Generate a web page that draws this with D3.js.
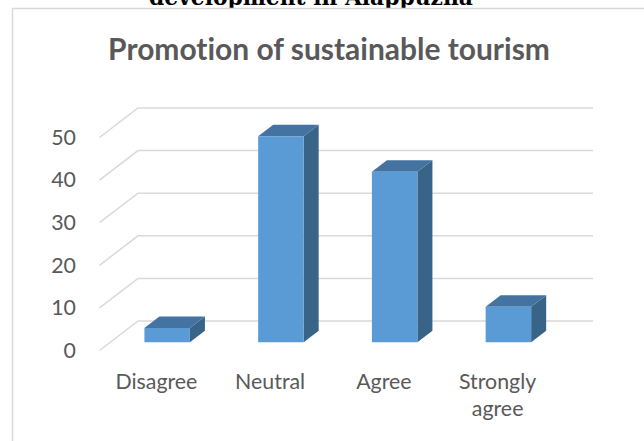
<!DOCTYPE html>
<html>
<head>
<meta charset="utf-8">
<script src="https://cdn.jsdelivr.net/npm/d3@7"></script>
<style>
  html, body { margin: 0; padding: 0; background: #fff; }
  svg { display: block; }
  text { font-variant-ligatures: none; font-feature-settings: "liga" 0, "clig" 0; }
</style>
</head>
<body>
<svg id="chart" width="644" height="441"></svg>
<script>
// Survey responses (% of respondents)
const categories = ["Disagree", "Neutral", "Agree", "Strongly agree"];
const values = [3.33, 48.33, 40, 8.33];
const yTicks = [0, 10, 20, 30, 40, 50];
const chartTitle = "Promotion of sustainable tourism";
const headingText = "development in Alappuzha";

const W = 644, H = 441;
const svg = d3.select("#chart");

// 3D projection: front floor plane plus a depth vector toward the back wall
const DX = 38.5, DY = 29.5;
const x = d3.scaleBand().domain(categories).range([99.5, 554.5]).padding(0);
const y = d3.scaleLinear().domain([0, 50]).range([350.5, 137.5]);
const proj = (px, v, d) => [px + d * DX, y(v) - d * DY];

const textColor = "#595959";
const gridColor = "#d9d9d9";
const sansFont = "Lato, 'Open Sans', sans-serif";

// scale a text's font-size so it spans the given width
function fitWidth(sel, target) {
  const w = sel.node().getComputedTextLength();
  const fs = parseFloat(sel.attr("font-size"));
  sel.attr("font-size", fs * target / w);
  return fs * target / w;
}

// heading above the chart frame (runs off the top of the page)
const heading = svg.append("text")
  .attr("x", 311).attr("y", 5)
  .attr("text-anchor", "middle")
  .attr("font-family", "'DejaVu Serif', 'Liberation Serif', serif")
  .attr("font-weight", "bold")
  .attr("font-size", 20)
  .attr("fill", "#000")
  .text(headingText);
fitWidth(heading, 324);

// chart frame
svg.append("rect")
  .attr("x", 12.5).attr("y", 8.5)
  .attr("width", W + 40).attr("height", H + 40)
  .attr("fill", "#fff")
  .attr("stroke", gridColor)
  .attr("stroke-width", 1.5);

// back wall gridlines and side wall diagonals
const [xMin, xMax] = x.range();
const grid = svg.append("g").attr("stroke", gridColor).attr("stroke-width", 1.5).attr("fill", "none");
yTicks.forEach(t => {
  const a = proj(xMin, t, 1), b = proj(xMax, t, 1), c = proj(xMin, t, 0);
  grid.append("path").attr("d", d3.line()([c, a, b]));
});

// 3D columns
const f1 = 0.28, f2 = 0.67;
const barW = x.bandwidth() * 0.4;
const bars = svg.append("g");
categories.forEach((cat, i) => {
  const v = values[i];
  const xl = x(cat) + (x.bandwidth() - barW) / 2;
  const xr = xl + barW;
  const poly = pts => "M" + pts.map(p => p.join(",")).join("L") + "Z";
  const g = bars.append("g");
  g.append("path")
    .attr("d", poly([proj(xr, 0, f1), proj(xr, 0, f2), proj(xr, v, f2), proj(xr, v, f1)]))
    .attr("fill", "#386488");
  g.append("path")
    .attr("d", poly([proj(xl, v, f1), proj(xr, v, f1), proj(xr, v, f2), proj(xl, v, f2)]))
    .attr("fill", "#4473a1");
  g.append("path")
    .attr("d", poly([proj(xl, 0, f1), proj(xr, 0, f1), proj(xr, v, f1), proj(xl, v, f1)]))
    .attr("fill", "#5b9bd5");
});

// label font size shared by both axes
const probe = svg.append("text").attr("font-family", sansFont).attr("font-size", 20).text("Disagree");
const labelSize = fitWidth(probe, 82);
probe.remove();

// value axis
const yAxis = svg.append("g")
  .attr("transform", "translate(80,0)")
  .call(d3.axisLeft(y).tickValues(yTicks).tickSize(0).tickPadding(4).tickFormat(d3.format("d")));
yAxis.select(".domain").remove();
yAxis.selectAll("text")
  .attr("font-family", sansFont)
  .attr("font-size", labelSize)
  .attr("fill", textColor);

// category axis with wrapped labels
const xAxis = svg.append("g");
categories.forEach(cat => {
  const cx = x(cat) + x.bandwidth() / 2;
  const t = xAxis.append("text")
    .attr("x", cx).attr("y", 388.5)
    .attr("text-anchor", "middle")
    .attr("font-family", sansFont)
    .attr("font-size", labelSize)
    .attr("fill", textColor)
    .text(cat);
  if (t.node().getComputedTextLength() > x.bandwidth() * 0.9) {
    const words = cat.split(" ");
    t.text(null);
    words.forEach((w, k) => {
      t.append("tspan").attr("x", cx).attr("dy", k === 0 ? 0 : 27).text(w);
    });
  }
});

// chart title
const title = svg.append("text")
  .attr("x", 329).attr("y", 59.5)
  .attr("text-anchor", "middle")
  .attr("font-family", sansFont)
  .attr("font-weight", "bold")
  .attr("font-size", 28)
  .attr("fill", textColor)
  .text(chartTitle);
fitWidth(title, 442);
</script>
</body>
</html>
